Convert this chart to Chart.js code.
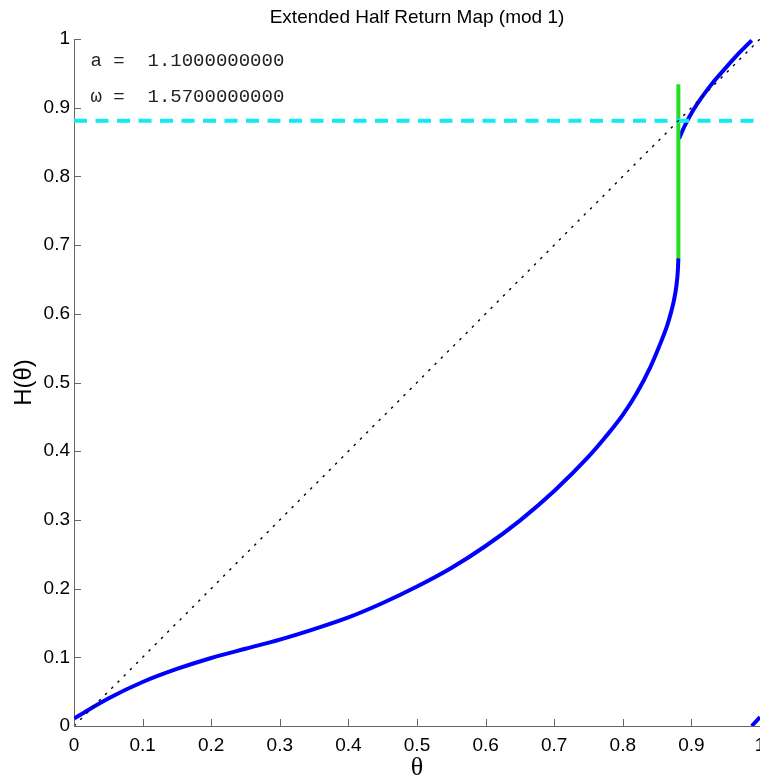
<!DOCTYPE html>
<html>
<head>
<meta charset="utf-8">
<title>Extended Half Return Map</title>
<script src="https://cdn.jsdelivr.net/npm/chart.js@4.4.1/dist/chart.umd.min.js"></script>
<style>
  body { margin: 0; background: #fff; }
  #wrap { width: 760px; height: 778px; }
</style>
</head>
<body>
<div id="wrap"><canvas id="map" width="760" height="778"></canvas></div>
<script>
// values
const tickValues = [0, 0.1, 0.2, 0.3, 0.4, 0.5, 0.6, 0.7, 0.8, 0.9, 1];
const tickLabels = ['0', '0.1', '0.2', '0.3', '0.4', '0.5', '0.6', '0.7', '0.8', '0.9', '1'];

// lower branch of H(theta)
const mainTheta = [0, 0.05, 0.1, 0.15, 0.2, 0.25, 0.3, 0.35, 0.4, 0.45, 0.5, 0.55, 0.6, 0.65, 0.7, 0.75, 0.775, 0.8, 0.82, 0.84, 0.85, 0.86, 0.865, 0.87, 0.874, 0.877, 0.879, 0.8803, 0.881];
const mainH = [0.011, 0.04, 0.064, 0.083, 0.099, 0.1125, 0.1257, 0.141, 0.158, 0.179, 0.203, 0.23, 0.262, 0.299, 0.342, 0.392, 0.421, 0.453, 0.484, 0.522, 0.545, 0.570, 0.584, 0.601, 0.617, 0.633, 0.648, 0.664, 0.681];

// upper branch after the jump
const upperTheta = [0.882, 0.89, 0.9, 0.915, 0.93, 0.95, 0.97, 0.988];
const upperH = [0.855, 0.873, 0.892, 0.915, 0.935, 0.958, 0.98, 0.998];

// wrapped piece (mod 1) at the bottom right
const wrapTheta = [0.988, 1.0];
const wrapH = [0, 0.013];

const diagTheta = [0, 1];
const diagH = [0, 1];

// green jump segment
const jumpTheta = [0.881, 0.881];
const jumpH = [0.681, 0.934];

// cyan level
const levelTheta = [0, 1];
const levelH = [0.881, 0.881];

const paramText = ['a =  1.1000000000', '\u03c9 =  1.5700000000'];

const toPoints = (xs, ys) => xs.map((x, i) => ({ x: x, y: ys[i] }));

const fixedTicks = (scale) => {
  scale.ticks = tickValues.map(v => ({ value: v }));
};

// MATLAB style ticks pointing into the axes
const inwardTicks = {
  id: 'inwardTicks',
  afterDatasetsDraw(chart) {
    const { ctx, chartArea, scales } = chart;
    ctx.save();
    ctx.strokeStyle = '#666';
    ctx.lineWidth = 1;
    ctx.beginPath();
    tickValues.forEach(v => {
      const px = Math.round(scales.x.getPixelForValue(v)) + 0.5;
      ctx.moveTo(px, chartArea.bottom);
      ctx.lineTo(px, chartArea.bottom - 7);
      const py = Math.round(scales.y.getPixelForValue(v)) + 0.5;
      ctx.moveTo(chartArea.left, py);
      ctx.lineTo(chartArea.left + 7, py);
    });
    ctx.stroke();
    ctx.restore();
  }
};

const paramLabels = {
  id: 'paramLabels',
  afterDraw(chart) {
    const { ctx, scales } = chart;
    ctx.save();
    ctx.fillStyle = '#222';
    ctx.font = '19px "Liberation Mono", "DejaVu Sans Mono", monospace';
    ctx.textBaseline = 'alphabetic';
    ctx.fillText(paramText[0], scales.x.getPixelForValue(0.024), scales.y.getPixelForValue(0.96));
    ctx.fillText(paramText[1], scales.x.getPixelForValue(0.024), scales.y.getPixelForValue(0.909));
    ctx.restore();
  }
};

const lineSet = (label, data, color, width, order, extra) => Object.assign({
  label: label,
  data: data,
  borderColor: color,
  backgroundColor: color,
  borderWidth: width,
  pointRadius: 0,
  fill: false,
  order: order
}, extra || {});

new Chart(document.getElementById('map'), {
  type: 'line',
  data: {
    datasets: [
      lineSet('diagonal', toPoints(diagTheta, diagH), '#000', 1.4, 1, { borderDash: [2.5, 6.3] }),
      lineSet('level', toPoints(levelTheta, levelH), '#11eaf0', 4, 2, { borderDash: [13, 8.5] }),
      lineSet('jump', toPoints(jumpTheta, jumpH), '#22dd22', 4, 3),
      lineSet('H lower', toPoints(mainTheta, mainH), '#0000ff', 4, 4, { cubicInterpolationMode: 'monotone' }),
      lineSet('H upper', toPoints(upperTheta, upperH), '#0000ff', 4, 4, { cubicInterpolationMode: 'monotone' }),
      lineSet('H wrap', toPoints(wrapTheta, wrapH), '#0000ff', 4, 4)
    ]
  },
  options: {
    responsive: false,
    animation: false,
    devicePixelRatio: 1,
    layout: { padding: 0 },
    plugins: {
      legend: { display: false },
      tooltip: { enabled: false },
      title: {
        display: true,
        fullSize: false,
        text: 'Extended Half Return Map (mod 1)',
        color: '#000',
        font: { family: '"Liberation Sans", Arial, sans-serif', size: 19, weight: 'normal', lineHeight: 1.2 },
        padding: { top: 6, bottom: 10.2 }
      }
    },
    scales: {
      x: {
        type: 'linear',
        min: 0,
        max: 1,
        afterBuildTicks: fixedTicks,
        afterFit(scale) {
          scale.height = 52;
          scale.paddingLeft = 0;
          scale.paddingRight = 0;
        },
        grid: { display: false, drawTicks: false },
        border: { display: true, color: '#666', width: 1 },
        ticks: {
          color: '#000',
          padding: 8,
          maxRotation: 0,
          autoSkip: false,
          font: { family: '"Liberation Sans", Arial, sans-serif', size: 19 },
          callback: (v, i) => tickLabels[i]
        },
        title: {
          display: true,
          text: '\u03b8',
          color: '#000',
          font: { family: '"Liberation Serif", "Times New Roman", serif', size: 26, lineHeight: '20px' },
          padding: { top: 0, bottom: 0 }
        }
      },
      y: {
        type: 'linear',
        min: 0,
        max: 1,
        afterBuildTicks: fixedTicks,
        afterFit(scale) {
          scale.width = 74;
          scale.paddingTop = 0;
          scale.paddingBottom = 0;
        },
        grid: { display: false, drawTicks: false },
        border: { display: true, color: '#666', width: 1 },
        ticks: {
          color: '#000',
          padding: 4,
          autoSkip: false,
          font: { family: '"Liberation Sans", Arial, sans-serif', size: 19 },
          callback: (v, i) => tickLabels[i]
        },
        title: {
          display: true,
          text: 'H(\u03b8)',
          color: '#000',
          font: { family: '"Liberation Sans", Arial, sans-serif', size: 24, lineHeight: 1.2 },
          padding: { top: 10, bottom: 0 }
        }
      }
    }
  },
  plugins: [inwardTicks, paramLabels]
});
</script>
</body>
</html>
